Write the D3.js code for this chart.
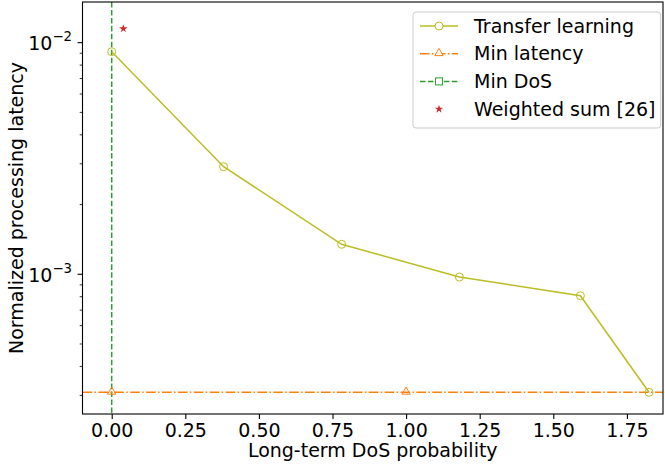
<!DOCTYPE html>
<html><head><meta charset="utf-8">
<script src="https://cdn.jsdelivr.net/npm/d3@7"></script>
<style>body{margin:0;background:#fff}svg{display:block;font-family:"DejaVu Sans",sans-serif}</style>
</head><body><svg id="c" width="665" height="468"></svg>
<script>
// Data
const tlX = [0.0, 0.380, 0.781, 1.181, 1.592, 1.825];
const tlY = [9.14e-3, 2.914e-3, 1.347e-3, 9.73e-4, 8.08e-4, 3.094e-4];
const minLatencyY = 3.094e-4;
const minLatencyMarkX = [0, 1];
const minDosX = 0;
const wsX = [0.0394];
const wsY = [0.01149];
const xTicks = [0, 0.25, 0.5, 0.75, 1.0, 1.25, 1.5, 1.75];
const yMajor = [1e-3, 1e-2];
const yMajorExp = ["−3", "−2"];
const legendLabels = ["Transfer learning", "Min latency", "Min DoS", "Weighted sum [26]"];

const svg = d3.select("#c");
const L = 82.5, R = 663, T = 2, B = 414;
const x = d3.scaleLinear().domain([-0.0992, 1.8726]).range([L, R]);
const y = d3.scaleLog().domain([2.493e-4, 0.01498]).range([B, T]);
const FS = 19;

const C_TL = "#bcbd22", C_ML = "#ff7f0e", C_MD = "#2ca02c", C_WS = "#d62728";

const g = svg.append("g");
g.append("defs").append("clipPath").attr("id","clip").append("rect")
  .attr("x",L).attr("y",T).attr("width",R-L).attr("height",B-T);
const plot = g.append("g").attr("clip-path","url(#clip)");

// Min DoS vertical line
plot.append("line").attr("x1",x(minDosX)).attr("x2",x(minDosX)).attr("y1",T).attr("y2",B)
  .attr("stroke",C_MD).attr("stroke-width",1.5).attr("stroke-dasharray","5.55,2.4");
// Min latency horizontal
plot.append("line").attr("x1",L).attr("x2",R).attr("y1",y(minLatencyY)).attr("y2",y(minLatencyY))
  .attr("stroke",C_ML).attr("stroke-width",1.5).attr("stroke-dasharray","9.6,2.4,1.5,2.4");
const tri = d3.symbol().type(d3.symbolTriangle).size(30);
plot.selectAll(".mlm").data(minLatencyMarkX).join("path")
  .attr("d",tri).attr("transform",d=>`translate(${x(d)},${y(minLatencyY)-0.5})`)
  .attr("fill","none").attr("stroke",C_ML).attr("stroke-width",1);

// Transfer learning
const pts = tlX.map((v,i)=>[v,tlY[i]]);
plot.append("path").datum(pts).attr("d",d3.line().x(d=>x(d[0])).y(d=>y(d[1])))
  .attr("fill","none").attr("stroke",C_TL).attr("stroke-width",1.5);
plot.selectAll(".tlm").data(pts).join("circle")
  .attr("cx",d=>x(d[0])).attr("cy",d=>y(d[1])).attr("r",4)
  .attr("fill","none").attr("stroke",C_TL).attr("stroke-width",1);

// Weighted sum star
const star = d3.symbol().type(d3.symbolStar).size(22);
plot.selectAll(".ws").data(wsX.map((v,i)=>[v,wsY[i]])).join("path")
  .attr("d",star).attr("transform",d=>`translate(${x(d[0])},${y(d[1])})`).attr("fill",C_WS);

// Frame
g.append("rect").attr("x",L).attr("y",T).attr("width",R-L).attr("height",B-T)
  .attr("fill","none").attr("stroke","#000").attr("stroke-width",1.1);

// X axis
const xa = g.append("g").attr("transform",`translate(0,${B})`)
  .call(d3.axisBottom(x).tickValues(xTicks).tickFormat(d3.format(".2f")).tickSizeOuter(0).tickSize(4.9).tickPadding(4.5));
xa.select(".domain").remove();
xa.selectAll("text").attr("font-size",FS).attr("font-family","DejaVu Sans").attr("fill","#000");
xa.selectAll("line").attr("stroke","#000").attr("stroke-width",1.1);

// Y axis ticks
const minor = [];
[1e-4,1e-3,1e-2].forEach(b=>{for(let k=2;k<=9;k++){const v=k*b; if(v>=y.domain()[0]&&v<=y.domain()[1]) minor.push(v);}});
g.selectAll(".ymin").data(minor).join("line")
  .attr("x1",L).attr("x2",L-2.8).attr("y1",d=>y(d)).attr("y2",d=>y(d)).attr("stroke","#000").attr("stroke-width",0.8);
g.selectAll(".ymaj").data(yMajor).join("line")
  .attr("x1",L).attr("x2",L-4.9).attr("y1",d=>y(d)).attr("y2",d=>y(d)).attr("stroke","#000").attr("stroke-width",1.1);
const yl = g.selectAll(".ylab").data(yMajor).join("text")
  .attr("x",72).attr("y",d=>y(d)+7.5).attr("text-anchor","end").attr("font-size",FS).attr("fill","#000");
yl.append("tspan").text("10");
yl.append("tspan").attr("dy",-9).attr("font-size",13.3).text((d,i)=>yMajorExp[i]);

// Axis labels
g.append("text").attr("x",(L+R)/2).attr("y",457).attr("text-anchor","middle").attr("font-size",FS)
  .text("Long-term DoS probability");
g.append("text").attr("transform",`translate(23,${(T+B)/2}) rotate(-90)`).attr("text-anchor","middle")
  .attr("font-size",FS).text("Normalized processing latency");

// Legend
const lg = g.append("g");
lg.append("rect").attr("x",413).attr("y",12).attr("width",247.7).attr("height",116).attr("rx",3)
  .attr("fill","#fff").attr("fill-opacity",0.8).attr("stroke","#ccc").attr("stroke-width",1);
const rows = legendLabels.map((t,i)=>({t,i,cy:26+i*27.7}));
const lx1 = 420, lx2 = 458, lmx = 439;
rows.forEach(r=>{
  const gg = lg.append("g");
  if(r.i===0){
    gg.append("line").attr("x1",lx1).attr("x2",lx2).attr("y1",r.cy).attr("y2",r.cy).attr("stroke",C_TL).attr("stroke-width",1.5);
    gg.append("circle").attr("cx",lmx).attr("cy",r.cy).attr("r",4).attr("fill","#fff").attr("stroke",C_TL).attr("stroke-width",1);
  } else if(r.i===1){
    gg.append("line").attr("x1",lx1).attr("x2",lx2).attr("y1",r.cy).attr("y2",r.cy).attr("stroke",C_ML).attr("stroke-width",1.5).attr("stroke-dasharray","9.6,2.4,1.5,2.4");
    gg.append("path").attr("d",tri).attr("transform",`translate(${lmx},${r.cy-0.5})`).attr("fill","#fff").attr("stroke",C_ML).attr("stroke-width",1);
  } else if(r.i===2){
    gg.append("line").attr("x1",lx1).attr("x2",lx2).attr("y1",r.cy).attr("y2",r.cy).attr("stroke",C_MD).attr("stroke-width",1.5).attr("stroke-dasharray","5.55,2.4");
    gg.append("rect").attr("x",lmx-3.5).attr("y",r.cy-3.5).attr("width",7).attr("height",7).attr("fill","#fff").attr("stroke",C_MD).attr("stroke-width",1);
  } else {
    gg.append("path").attr("d",star).attr("transform",`translate(${lmx},${r.cy})`).attr("fill",C_WS);
  }
  gg.append("text").attr("x",474).attr("y",r.cy+6.5).attr("font-size",FS).attr("fill","#000").text(r.t);
});
</script></body></html>
